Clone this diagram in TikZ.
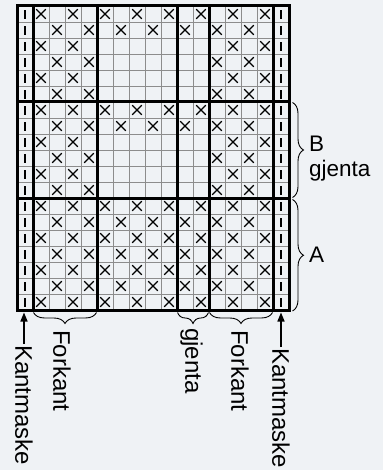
\documentclass[tikz,border=0pt]{standalone}
\usepackage{fontspec}
\setmainfont{Liberation Sans}
\usepackage{tikz}
\usetikzlibrary{arrows.meta}
\usetikzlibrary{decorations.pathreplacing}
\definecolor{chartbg}{RGB}{239,242,245}
\definecolor{gridgray}{RGB}{140,140,140}

\begin{document}
\begin{tikzpicture}[x=1pt,y=-1pt]
\tikzstyle{thinline}=[draw=gridgray,line width=0.9pt]
\tikzstyle{thickline}=[draw=black,line width=3pt]
\tikzstyle{stitchx}=[draw=black,line width=1.1pt]
\tikzstyle{edgebar}=[draw=black,line width=1.5pt]
\tikzstyle{curly}=[draw=black,line width=0.9pt,decorate,decoration={brace,amplitude=11pt}]
\tikzstyle{chartlabel}=[inner sep=1pt,font=\fontsize{22.5}{25}\selectfont]
\tikzstyle{sidelabel}=[inner sep=1pt,font=\fontsize{24}{26}\selectfont,rotate=-90,anchor=west]
\tikzstyle{pointer}=[draw=black,line width=1.5pt,-{Triangle[width=7pt,length=9pt]}]
\fill[chartbg] (0,0) rectangle (383,470);
\useasboundingbox (0,0) rectangle (383,470);
\begin{scope}[shift={(17,6)},x=16pt,y=-16pt]
\foreach \c in {0,...,17} \draw[thinline] (\c,0) -- (\c,19);
\foreach \r in {0,...,19} \draw[thinline] (0,\r) -- (17,\r);
\foreach \r in {0,6,12,14,16,18} \foreach \c in {1,3,...,15}
  \draw[stitchx] (\c+0.2,\r+0.2) -- (\c+0.8,\r+0.8) (\c+0.8,\r+0.2) -- (\c+0.2,\r+0.8);
\foreach \r in {1,7,13,15,17} \foreach \c in {2,4,...,14}
  \draw[stitchx] (\c+0.2,\r+0.2) -- (\c+0.8,\r+0.8) (\c+0.8,\r+0.2) -- (\c+0.2,\r+0.8);
\foreach \r in {2,4,8,10} \foreach \c in {1,3,13,15}
  \draw[stitchx] (\c+0.2,\r+0.2) -- (\c+0.8,\r+0.8) (\c+0.8,\r+0.2) -- (\c+0.2,\r+0.8);
\foreach \r in {3,5,9,11} \foreach \c in {2,4,12,14}
  \draw[stitchx] (\c+0.2,\r+0.2) -- (\c+0.8,\r+0.8) (\c+0.8,\r+0.2) -- (\c+0.2,\r+0.8);
\foreach \r in {0,...,18}
  \draw[edgebar] (0.5,\r+0.27) -- (0.5,\r+0.83) (16.5,\r+0.27) -- (16.5,\r+0.83);
\foreach \c in {1,5,10,12,16} \draw[thickline] (\c,0) -- (\c,19);
\foreach \r in {6,12} \draw[thickline] (0,\r) -- (17,\r);
\draw[thickline] (0,0) rectangle (17,19);
\end{scope}
\coordinate (bTop) at (292.5, 102.5);
\coordinate (bBot) at (292.5, 197.5);
\coordinate (aTop) at (292.5, 199.5);
\coordinate (aBot) at (292.5, 311);
\coordinate (forkantLa) at (33.5, 312.5);
\coordinate (forkantLb) at (96.5, 312.5);
\coordinate (gjentaa) at (177.5, 312.5);
\coordinate (gjentab) at (208.5, 312.5);
\coordinate (forkantRa) at (209.5, 312.5);
\coordinate (forkantRb) at (272.5, 312.5);
\coordinate (kantLtip) at (24, 312.5);
\coordinate (kantRtip) at (281, 312.5);
\draw[curly] (bTop) -- (bBot);
\draw[curly] (aTop) -- (aBot);
\draw[curly] (forkantLb) -- (forkantLa);
\draw[curly] (gjentab) -- (gjentaa);
\draw[curly] (forkantRb) -- (forkantRa);
\node[chartlabel,anchor=west,align=left] at(308, 158.5) (labelB) {B\\gjenta};
\node[chartlabel,anchor=west] at(308, 254.5) (labelA) {A};
\node[sidelabel] at(24, 344) (kantL) {Kantmaske};
\node[sidelabel] at(62, 329) (forkantL) {Forkant};
\node[sidelabel] at(191.5, 327) (gjentaBot) {gjenta};
\node[sidelabel] at(240, 329) (forkantR) {Forkant};
\node[sidelabel] at(281, 347) (kantR) {Kantmaske};
\draw[pointer] (kantL.west) -- (kantLtip);
\draw[pointer] (kantR.west) -- (kantRtip);
\end{tikzpicture}
\end{document}
